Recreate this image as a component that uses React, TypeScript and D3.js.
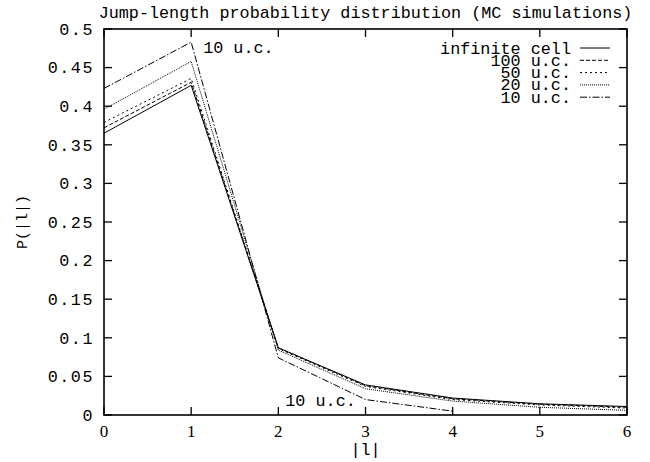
import React from "react";
import * as d3 from "d3";

const jumpLengths = [0, 1, 2, 3, 4, 5, 6];
const seriesNames = ["infinite cell", "100 u.c.", "50 u.c.", "20 u.c.", "10 u.c."];
const infiniteCell = [0.365, 0.427, 0.087, 0.039, 0.022, 0.0145, 0.011];
const uc100 = [0.372, 0.431, 0.087, 0.038, 0.021, 0.014, 0.010];
const uc50 = [0.379, 0.436, 0.086, 0.037, 0.020, 0.013, 0.009];
const uc20 = [0.396, 0.458, 0.084, 0.034, 0.018, 0.010, 0.006];
const uc10 = [0.423, 0.483, 0.074, 0.020, 0.005];
const yTicks = [0, 0.05, 0.1, 0.15, 0.2, 0.25, 0.3, 0.35, 0.4, 0.45, 0.5];
const xTicks = [0, 1, 2, 3, 4, 5, 6];
const dashes = ["none", "4,2", "2,3", "1,1", "7,2,1.5,2"];

const W = 650, H = 462;
const M = { left: 104, right: 627, top: 29, bottom: 415 };
const FONT = "'Liberation Mono', 'DejaVu Sans Mono', monospace";

export default function App() {
  const x = d3.scaleLinear().domain([0, 6]).range([M.left, M.right]);
  const y = d3.scaleLinear().domain([0, 0.5]).range([M.bottom, M.top]);
  const all = [infiniteCell, uc100, uc50, uc20, uc10];
  const line = d3.line<number>().x((_, i) => x(jumpLengths[i])).y((d) => y(d));
  const tickLen = 8;
  return (
    <svg width={W} height={H} style={{ position: "absolute", left: 0, top: 0, background: "#fff" }}
      fontFamily={FONT} fontSize={16.8}>
      <rect x={0} y={0} width={W} height={H} fill="#fff" />
      <text x={(M.left + M.right) / 2} y={18} textAnchor="middle">
        Jump-length probability distribution (MC simulations)
      </text>
      {all.map((s, k) => (
        <path key={k} d={line(s) || ""} fill="none" stroke="#000" strokeWidth={1}
          strokeDasharray={dashes[k]} />
      ))}
      <rect x={M.left} y={M.top} width={M.right - M.left} height={M.bottom - M.top}
        fill="none" stroke="#000" strokeWidth={1.6} />
      {yTicks.map((t) => (
        <g key={"y" + t}>
          <line x1={M.left} x2={M.left + tickLen} y1={y(t)} y2={y(t)} stroke="#000" strokeWidth={1.3} />
          <line x1={M.right} x2={M.right - tickLen} y1={y(t)} y2={y(t)} stroke="#000" strokeWidth={1.3} />
          <text x={M.left - 10} y={y(t)} dy="0.35em" textAnchor="end" letterSpacing={1.5}>{String(t)}</text>
        </g>
      ))}
      {xTicks.map((t) => (
        <g key={"x" + t}>
          <line x1={x(t)} x2={x(t)} y1={M.bottom} y2={M.bottom - tickLen} stroke="#000" strokeWidth={1.3} />
          <line x1={x(t)} x2={x(t)} y1={M.top} y2={M.top + tickLen} stroke="#000" strokeWidth={1.3} />
          <text x={x(t)} y={437} textAnchor="middle" fontFamily="'Liberation Serif', serif" fontSize={17}>{String(t)}</text>
        </g>
      ))}
      <text x={(M.left + M.right) / 2} y={455} textAnchor="middle">|l|</text>
      <text transform={`translate(27,${(M.top + M.bottom) / 2}) rotate(-90)`} textAnchor="middle" fontSize={15}>P(|l|)</text>
      {seriesNames.map((n, k) => (
        <g key={n}>
          <text x={571} y={48 + k * 12.3} dy="0.33em" textAnchor="end">{n}</text>
          <line x1={580} x2={610} y1={48 + k * 12.3} y2={48 + k * 12.3} stroke="#000"
            strokeWidth={1} strokeDasharray={dashes[k]} />
        </g>
      ))}
      <text x={x(1) + 12} y={y(0.476)} dy="0.35em">10 u.c.</text>
      <text x={x(2.08)} y={y(0.019)} dy="0.35em">10 u.c.</text>
    </svg>
  );
}
